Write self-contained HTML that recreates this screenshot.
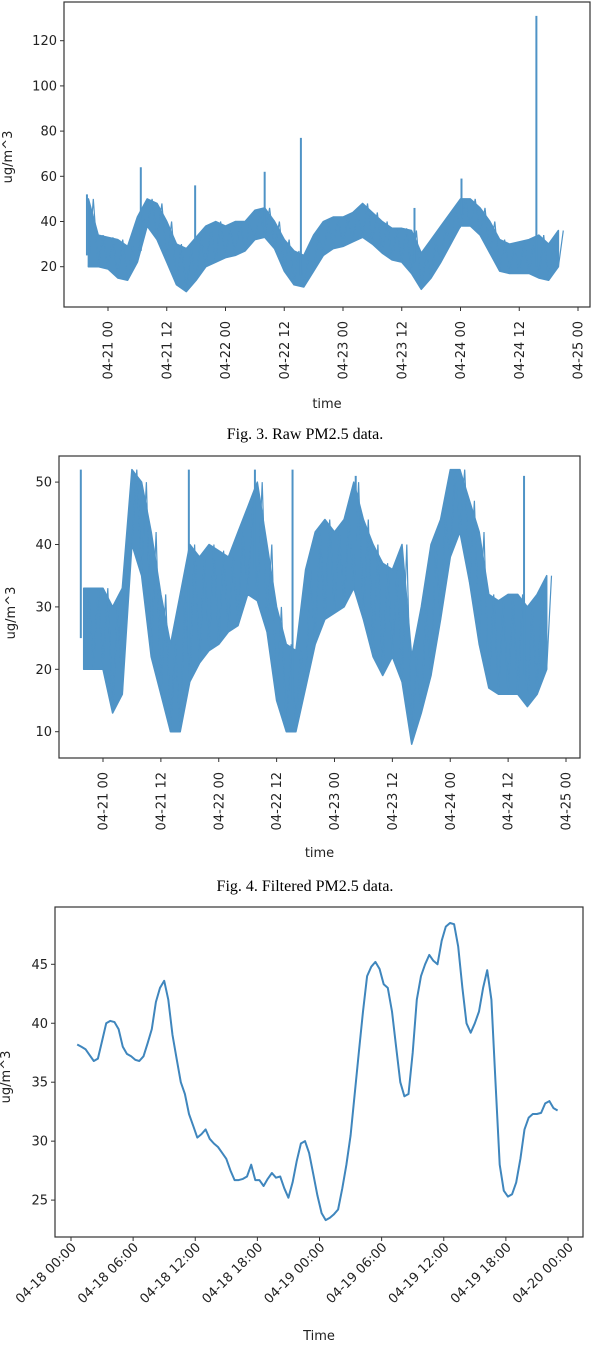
<!DOCTYPE html>
<html><head><meta charset="utf-8">
<style>
html,body{margin:0;padding:0;background:#fff;}
svg{display:block;}
.tk{font-family:"DejaVu Sans","Liberation Sans",sans-serif;font-size:13px;fill:#222;}
.cap{font-family:"Liberation Serif",serif;font-size:16px;fill:#000;}
</style></head>
<body>
<svg id="fig" width="610" height="1346" viewBox="0 0 610 1346" xmlns="http://www.w3.org/2000/svg">
<g id="c1"></g>
<g id="c2"></g>
<g id="c3"></g>
<text class="cap" x="305" y="439" text-anchor="middle">Fig. 3. Raw PM2.5 data.</text>
<text class="cap" x="305" y="891" text-anchor="middle">Fig. 4. Filtered PM2.5 data.</text>
</svg>
<script>
// ---- Chart 1 data (hours from 04-21 00) ----
const rawHours = [-4,-2,0,2,4,6,8,10,12,14,16,18,20,22,24,26,28,30,32,34,36,38,40,42,44,46,48,50,52,54,56,58,60,62,64,66,68,70,72,74,76,78,80,82,84,86,88,90,92];
const rawLow  = [20,20,19,15,14,22,38,32,22,12,9,14,20,22,24,25,27,32,33,28,18,12,11,18,25,28,29,31,33,30,26,23,22,17,10,15,22,30,38,38,34,26,18,17,17,17,15,14,20];
const rawHigh = [50,34,33,32,29,42,50,48,40,30,28,33,38,40,38,40,40,45,46,40,32,27,25,34,40,42,42,44,48,44,40,37,37,36,26,32,38,44,50,50,46,40,32,30,31,32,34,30,36];
const rawSpikeHours = [-4.3,6.7,17.8,32,39.4,62.6,72.2,87.5];
const rawSpikeVals  = [52,64,56,62,77,46,59,131];
const rawYTicks = [20,40,60,80,100,120];
const dayTickLabels = ["04-21 00","04-21 12","04-22 00","04-22 12","04-23 00","04-23 12","04-24 00","04-24 12","04-25 00"];
const dayTickHours = [0,12,24,36,48,60,72,84,96];

// ---- Chart 2 data ----
const filtHours = [-4,-2,0,2,4,6,8,10,12,14,16,18,20,22,24,26,28,30,32,34,36,38,40,42,44,46,48,50,52,54,56,58,60,62,64,66,68,70,72,74,76,78,80,82,84,86,88,90,92];
const filtLow  = [20,20,20,13,16,40,35,22,16,10,10,18,21,23,24,26,27,32,31,26,15,10,10,17,24,28,29,30,33,28,22,19,22,18,8,13,19,28,38,42,34,24,17,16,16,16,14,16,20];
const filtHigh = [33,33,33,30,33,52,50,42,32,24,32,40,38,40,39,38,42,46,50,40,30,24,23,36,42,44,42,44,50,44,40,37,36,40,22,30,40,44,52,52,47,42,32,31,32,32,30,32,35];
const filtSpikeHours = [-4.6,17.8,31.5,39.3,52.4,87.3];
const filtSpikeVals  = [52,52,52,52,51,51];
const filtYTicks = [10,20,30,40,50];

// ---- Chart 3 data (hours from 04-18 00, uniform step) ----
const smoothStart = 0.6, smoothStep = 0.4;
const smoothVals = [38.2,38.0,37.8,37.3,36.8,37.0,38.5,40.0,40.2,40.1,39.5,38.0,37.4,37.2,36.9,36.8,37.2,38.3,39.5,41.8,43.0,43.6,42.0,39.0,37.0,35.0,34.0,32.3,31.3,30.3,30.6,31.0,30.2,29.8,29.5,29.0,28.5,27.5,26.7,26.7,26.8,27.0,28.0,26.7,26.7,26.2,26.8,27.3,26.9,27.0,26.0,25.2,26.5,28.3,29.8,30.0,29.0,27.2,25.4,23.9,23.3,23.5,23.8,24.2,26.0,28.0,30.5,34.0,37.5,41.0,44.0,44.8,45.2,44.6,43.3,43.0,41.0,38.0,35.0,33.8,34.0,37.5,42.0,44.0,45.0,45.8,45.3,45.0,47.0,48.2,48.5,48.4,46.5,43.0,40.0,39.2,40.0,41.0,43.0,44.5,42.0,35.0,28.0,25.8,25.3,25.5,26.5,28.5,31.0,32.0,32.3,32.3,32.4,33.2,33.4,32.8,32.6];
const smoothYTicks = [25,30,35,40,45];
const smoothXLabels = ["04-18 00:00","04-18 06:00","04-18 12:00","04-18 18:00","04-19 00:00","04-19 06:00","04-19 12:00","04-19 18:00","04-20 00:00"];
const smoothXHours = [0,6,12,18,24,30,36,42,48];

const NS="http://www.w3.org/2000/svg";
function mk(parent,tag,attrs){const e=document.createElementNS(NS,tag);for(const k in attrs)e.setAttribute(k,attrs[k]);parent.appendChild(e);return e;}
const BLUE="#4f93c6";

function axes(g,box,yTicks,yS,xTicks,xS,xLabels,rot,yLab,xLab,xLabY,yLabPos){
  const f=mk(g,'rect',{x:box.l,y:box.t,width:box.r-box.l,height:box.b-box.t,fill:'none',stroke:'#333','stroke-width':1.2});
  
  
  yTicks.forEach(v=>{
    const y=yS(v);
    mk(g,'line',{x1:box.l-4,x2:box.l,y1:y,y2:y,stroke:'#333'});
    const t=mk(g,'text',{x:box.l-7,y:y+4.5,class:'tk','text-anchor':'end'});t.textContent=v;
    
    
  });
  xTicks.forEach((h,i)=>{
    const x=xS(h);
    mk(g,'line',{x1:x,x2:x,y1:box.b,y2:box.b+4,stroke:'#333'});
    let t;
    if(rot===90){t=mk(g,'text',{x:0,y:0,class:'tk','text-anchor':'end',transform:`translate(${x+4.5},${box.b+14}) rotate(-90)`});}
    else{t=mk(g,'text',{x:0,y:0,class:'tk','text-anchor':'end',transform:`translate(${x+6},${box.b+11}) rotate(-45)`});}
    t.textContent=xLabels[i];
    
    
  });
  const xl=mk(g,'text',{x:(box.l+box.r)/2,y:xLabY,class:'tk','text-anchor':'middle'});xl.textContent=xLab;
  
  
  const yl=mk(g,'text',{x:0,y:0,class:'tk','text-anchor':'middle',transform:`translate(${yLabPos[0]},${yLabPos[1]}) rotate(-90)`});yl.textContent=yLab;
  
  
}

function band(g,hours,lo,hi,xS,yS,sh,sv){
  let d='';
  hours.forEach((h,i)=>{d+=(i?'L':'M')+xS(h).toFixed(1)+','+yS(hi[i]).toFixed(1);});
  for(let i=hours.length-1;i>=0;i--){d+='L'+xS(hours[i]).toFixed(1)+','+yS(lo[i]).toFixed(1);}
  const p=mk(g,'path',{d:d+'Z',fill:BLUE,stroke:BLUE,'stroke-width':1.5,'stroke-linejoin':'round'});
  
  
  let z='';
  hours.forEach((h,i)=>{z+=(i?'L':'M')+xS(h).toFixed(1)+','+yS(lo[i]).toFixed(1)+'L'+xS(h+1).toFixed(1)+','+yS(hi[i]).toFixed(1);});
  mk(g,'path',{d:z,fill:'none',stroke:BLUE,'stroke-width':1.2});
  sh.forEach((h,i)=>{
    const idx=Math.max(0,Math.min(hours.length-1,Math.round((h-hours[0])/2)));
    const l=mk(g,'line',{x1:xS(h),x2:xS(h),y1:yS(lo[idx]+5),y2:yS(sv[i]),stroke:BLUE,'stroke-width':2});
    
    
  });
}

// Chart 1
(function(){
  const g=document.getElementById('c1');
  const box={l:64,r:590,t:2,b:307};
  const xS=h=>108+h*470/96, yS=v=>266.7-(v-20)*2.26;
  band(g,rawHours,rawLow,rawHigh,xS,yS,rawSpikeHours,rawSpikeVals);
  axes(g,box,rawYTicks,yS,dayTickHours,xS,dayTickLabels,90,'ug/m^3','time',408,[12,157]);
})();
// Chart 2
(function(){
  const g=document.getElementById('c2');
  const box={l:59,r:580,t:456,b:758};
  const xS=h=>103+h*463/96, yS=v=>731.7-(v-10)*6.24;
  band(g,filtHours,filtLow,filtHigh,xS,yS,filtSpikeHours,filtSpikeVals);
  axes(g,box,filtYTicks,yS,dayTickHours,xS,dayTickLabels,90,'ug/m^3','time',857,[15,613]);
})();
// Chart 3
(function(){
  const g=document.getElementById('c3');
  const box={l:55,r:583,t:907,b:1237};
  const xS=h=>71+h*497/48, yS=v=>964.3-(v-45)*11.79;
  let d='';
  smoothVals.forEach((v,i)=>{const h=smoothStart+i*smoothStep;d+=(i?'L':'M')+xS(h).toFixed(1)+','+yS(v).toFixed(1);});
  const p=mk(g,'path',{d:d,fill:'none',stroke:'#3f86bd','stroke-width':2,'stroke-linejoin':'round'});
  
  
  axes(g,box,smoothYTicks,yS,smoothXHours,xS,smoothXLabels,45,'ug/m^3','Time',1340,[10,1077]);
})();
</script>
</body></html>
